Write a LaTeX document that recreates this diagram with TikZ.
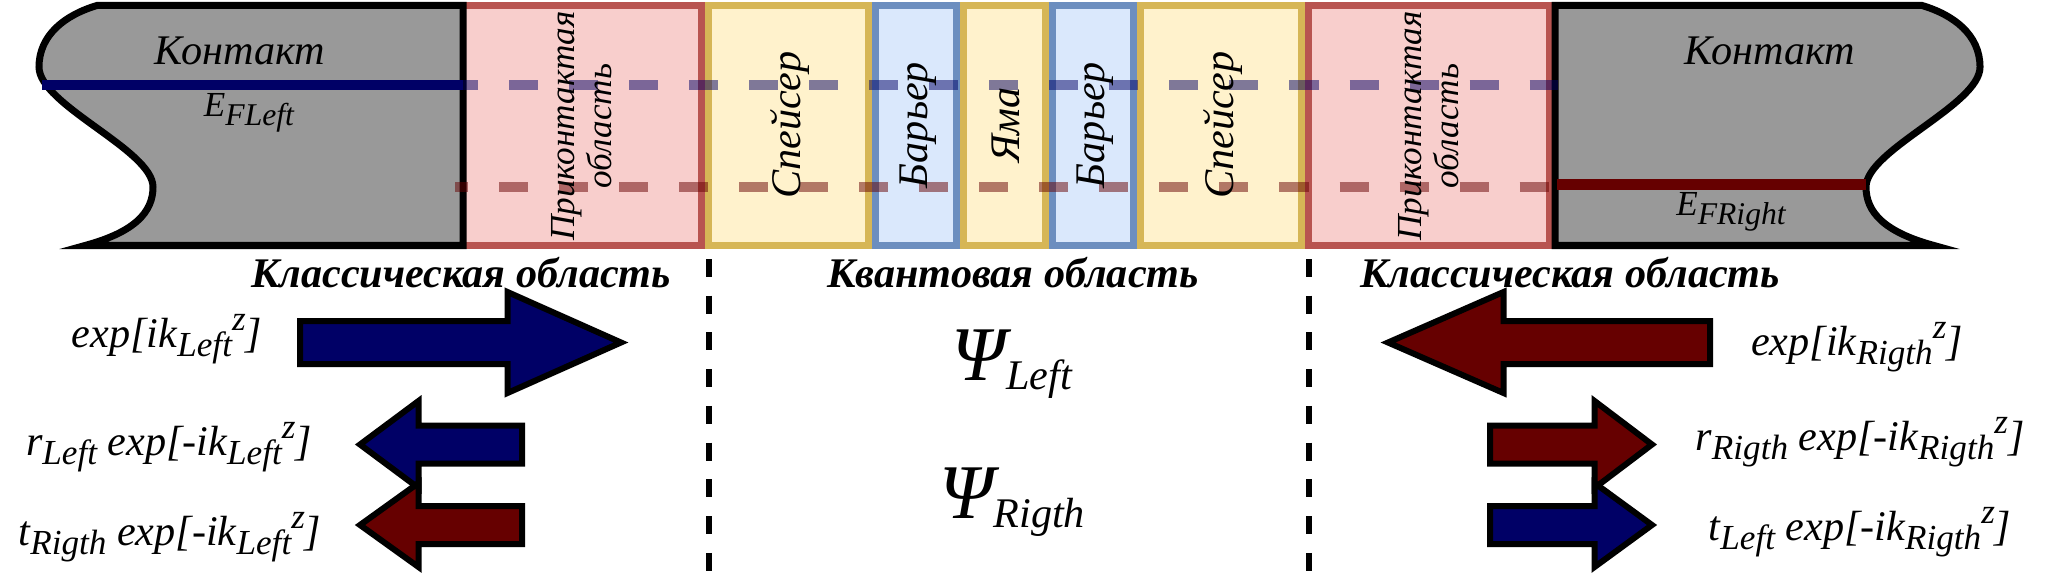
\documentclass[tikz,border=0pt]{standalone}
\usepackage{fontspec}
\setmainfont{Liberation Serif}

\definecolor{navy}{HTML}{000066}
\definecolor{wine}{HTML}{660000}
\definecolor{contactgray}{HTML}{999999}
\definecolor{pinkfill}{HTML}{F8CECC}
\definecolor{pinkline}{HTML}{B85450}
\definecolor{yelfill}{HTML}{FFF2CC}
\definecolor{yelline}{HTML}{D6B656}
\definecolor{bluefill}{HTML}{DAE8FC}
\definecolor{blueline}{HTML}{6C8EBF}

% lowered and raised indices
\newcommand{\dn}[2][10]{\raisebox{-2.6pt}{\fontsize{#1}{#1}\selectfont #2}}
\newcommand{\up}[1]{\raisebox{4.8pt}{\fontsize{10}{10}\selectfont #1}}
% block arrow: fill, tail x, head base x, tip x, centre y, shaft half, head half
\newcommand{\fatarrow}[7]{%
  \draw[arrowline, fill=#1] (#2,#5-#6) -- (#3,#5-#6) -- (#3,#5-#7) -- (#4,#5)
    -- (#3,#5+#7) -- (#3,#5+#6) -- (#2,#5+#6) -- cycle;}

\begin{document}
\begin{tikzpicture}[x=0.01cm, y=-0.01cm,
   contact/.style={draw=black, line width=0.07cm, fill=contactgray},
   pinklayer/.style={draw=pinkline, fill=pinkfill, line width=0.07cm},
   yellayer/.style={draw=yelline, fill=yelfill, line width=0.07cm},
   bluelayer/.style={draw=blueline, fill=bluefill, line width=0.07cm},
   lbl/.style={font=\fontsize{12}{14}\selectfont\itshape, inner sep=0pt},
   side/.style={lbl, rotate=90},
   elbl/.style={font=\fontsize{10}{12}\selectfont\itshape, inner sep=0pt},
   region/.style={font=\fontsize{12}{14}\selectfont\bfseries\itshape, anchor=base, inner sep=0pt},
   formula/.style={font=\fontsize{12}{14}\selectfont\itshape, anchor=base, inner sep=0pt},
   psi/.style={font=\fontsize{22}{24}\selectfont\itshape, anchor=base, inner sep=0pt},
   fermi/.style={line width=0.1cm},
   level/.style={line width=0.1cm, draw opacity=0.5, dash pattern=on 0.29cm off 0.31cm},
   border/.style={line width=0.06cm, dash pattern=on 0.18cm off 0.187cm},
   arrowline/.style={draw=black, line width=0.06cm, line join=miter}]%
   \useasboundingbox (0,0) rectangle (2046,582);
   \fill[white] (0,0) rectangle (2046,582);

   % Layers of the structure
   \draw[pinklayer] (461.5,5.5) rectangle (701.5,245.5);
   \draw[yellayer]  (708.5,5.5) rectangle (868.5,245.5);
   \draw[bluelayer] (875.5,5.5) rectangle (956.5,245.5);
   \draw[yellayer]  (963.5,5.5) rectangle (1045.5,245.5);
   \draw[bluelayer] (1052.5,5.5) rectangle (1133.5,245.5);
   \draw[yellayer]  (1140.5,5.5) rectangle (1301.5,245.5);
   \draw[pinklayer] (1308.5,5.5) rectangle (1549.5,245.5);

   % Contacts
   \draw[contact] (463,5.5) -- (97,5.5) .. controls (65,15) and (39,35) .. (39,67)
     .. controls (39,105) and (153,150) .. (153,187)
     .. controls (153,212) and (135,232) .. (85,245.5) -- (463,245.5) -- cycle;
   \draw[contact] (1555,5.5) -- (1922,5.5) .. controls (1954,15) and (1980,35) .. (1980,67)
     .. controls (1980,105) and (1866,150) .. (1866,187)
     .. controls (1866,212) and (1884,232) .. (1934,245.5) -- (1555,245.5) -- cycle;

   % Fermi levels
   \draw[fermi, navy] (42,85) -- (463,85);
   \draw[fermi, wine] (1557,184.5) -- (1866,184.5);
   \draw[level, navy, dash phase=0.14cm] (463,85) -- (1558,85);
   \draw[level, wine, dash phase=0.16cm] (455,187) -- (1549,187);

   % Labels of the structure
   \node[lbl] (contL) at (240,51) {Контакт};
   \node[lbl] (contR) at (1770,51) {Контакт};
   \node[elbl] (efL) at (249,113) {E\dn[9]{FLeft}};
   \node[elbl] (efR) at (1731,212) {E\dn[9]{FRight}};
   \node[side, font=\fontsize{10}{10.5}\selectfont\itshape, align=center] (nearL) at (582,126) {Приконтактая\\область};
   \node[side, font=\fontsize{10}{10.5}\selectfont\itshape, align=center] (nearR) at (1429,126) {Приконтактая\\область};
   \node[side] (spL) at (790,125) {Спейсер};
   \node[side] (barL) at (918,125) {Барьер};
   \node[side] (well) at (1006,125) {Яма};
   \node[side] (barR) at (1095,125) {Барьер};
   \node[side] (spR) at (1223,125) {Спейсер};

   % Region borders
   \draw[border] (709,259) -- (709,571);
   \draw[border] (1309,259) -- (1309,571);
   \node[region] (classL) at (461,287) {Классическая область};
   \node[region] (quant) at (1013,287) {Квантовая область};
   \node[region] (classR) at (1570,287) {Классическая область};

   % Waves
   \fatarrow{navy}{300}{507.5}{621}{342.5}{21.5}{50.5}
   \fatarrow{navy}{522}{418.5}{360}{444.5}{19}{43.5}
   \fatarrow{wine}{522}{418.5}{360}{525}{19}{42}
   \fatarrow{wine}{1710}{1503.5}{1388}{342.5}{21.5}{50.5}
   \fatarrow{wine}{1490}{1594.5}{1652}{444.5}{19}{43.5}
   \fatarrow{navy}{1490}{1594.5}{1652}{525}{19}{42}

   \node[formula] (inL) at (167,347) {exp[ik\dn{Left}\up{z}]};
   \node[formula] (refL) at (169,455) {r\dn{Left} exp[-ik\dn{Left}\up{z}]};
   \node[formula] (traL) at (170,545) {t\dn{Rigth} exp[-ik\dn{Left}\up{z}]};
   \node[formula] (inR) at (1857,355) {exp[ik\dn{Rigth}\up{z}]};
   \node[formula] (refR) at (1860,450) {r\dn{Rigth} exp[-ik\dn{Rigth}\up{z}]};
   \node[formula] (traR) at (1860,540) {t\dn{Left} exp[-ik\dn{Rigth}\up{z}]};
   \node[psi] (psiL) at (1012,380) {Ψ\dn[12]{Left}};
   \node[psi] (psiR) at (1012,518) {Ψ\dn[12]{Rigth}};
\end{tikzpicture}
\end{document}
